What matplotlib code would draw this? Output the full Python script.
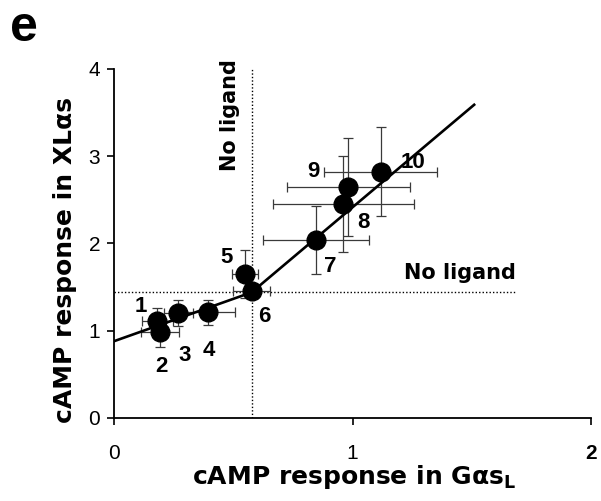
import matplotlib
matplotlib.use("Agg")
import matplotlib.pyplot as plt

plt.rcParams["font.family"] = ["Liberation Sans", "DejaVu Sans"]
plt.rcParams["mathtext.fontset"] = "custom"
plt.rcParams["mathtext.rm"] = "DejaVu Sans"
plt.rcParams["mathtext.bf"] = "DejaVu Sans:bold"
plt.rcParams["mathtext.it"] = "DejaVu Sans:italic"

# -------- dados --------
pontos = ["1", "2", "3", "4", "5", "6", "7", "8", "9", "10"]
gs = [0.182, 0.193, 0.270, 0.396, 0.549, 0.577, 0.847, 0.961, 0.982, 1.118]
gs_err = [0.065, 0.080, 0.060, 0.110, 0.053, 0.077, 0.222, 0.296, 0.257, 0.236]
xl = [1.11, 0.99, 1.20, 1.21, 1.65, 1.45, 2.04, 2.45, 2.65, 2.82]
xl_err = [0.15, 0.18, 0.15, 0.14, 0.27, 0.05, 0.385, 0.55, 0.56, 0.51]

# reta ajustada (dois segmentos)
fit_x = [0.0, 0.577, 1.51]
fit_y = [0.88, 1.44, 3.59]

# "No ligand" (ponto 6)
sem_ligante_x = 0.577
sem_ligante_y = 1.44
# ---------------------------------------

# deslocamento dos números (pixels)
offsets = [(-17, 15), (1, -35), (6, -42), (0, -38), (-18, 17),
           (13, -25), (14, -27), (20, -18), (-35, 15), (32, 9)]

rotulo = dict(family="DejaVu Sans", fontweight="bold")

fig = plt.figure(figsize=(6.01, 5.01), dpi=100)
ax = fig.add_axes([0.1897, 0.1657, 0.7937, 0.6966])

ax.plot([sem_ligante_x, sem_ligante_x], [0, 4], ls=(0, (1, 1.5)), color="black", lw=1.0)
ax.plot([0, 1.68], [sem_ligante_y, sem_ligante_y], ls=(0, (1, 1.5)), color="black", lw=1.0)

ax.errorbar(gs, xl, xerr=gs_err, yerr=xl_err, fmt="none", ecolor="#3a3a3a",
            elinewidth=0.9, capsize=3.6, capthick=0.9, zorder=2)
ax.plot(fit_x, fit_y, color="black", lw=1.9, zorder=3)
ax.plot(gs, xl, "o", color="black", ms=13.5, zorder=4)

for p, x, y, off in zip(pontos, gs, xl, offsets):
    ax.annotate(p, (x, y), xytext=off, textcoords="offset pixels",
                ha="center", va="center", fontsize=16, fontweight="bold")

ax.text(0.486, 3.47, "No ligand", rotation=90, ha="center", va="center",
        fontsize=15, **rotulo)
ax.text(1.451, 1.665, "No ligand", ha="center", va="center",
        fontsize=15, **rotulo)

ax.set_xlim(0, 2)
ax.set_ylim(0, 4)
ax.set_xticks([0, 1, 2])
ax.set_yticks([0, 1, 2, 3, 4])
ax.tick_params(axis="x", length=5, width=1.2, pad=14, labelsize=15)
ax.tick_params(axis="y", length=5, width=1.2, pad=5, labelsize=15)
ax.get_xticklabels()[2].set_fontweight("bold")
for s in ["top", "right"]:
    ax.spines[s].set_visible(False)
for s in ["left", "bottom"]:
    ax.spines[s].set_linewidth(1.3)

ax.set_xlabel(r"cAMP response in Gαs$_\mathbf{L}$", fontsize=18, **rotulo)
ax.set_ylabel("cAMP response in XLαs", fontsize=18, **rotulo)
ax.xaxis.set_label_coords(0.503, -0.128)
ax.yaxis.set_label_coords(-0.077, 0.453)

fig.text(0.017, 0.945, "e", fontsize=36, fontweight="bold", ha="left", va="center")

plt.savefig("out.png", dpi=100)
